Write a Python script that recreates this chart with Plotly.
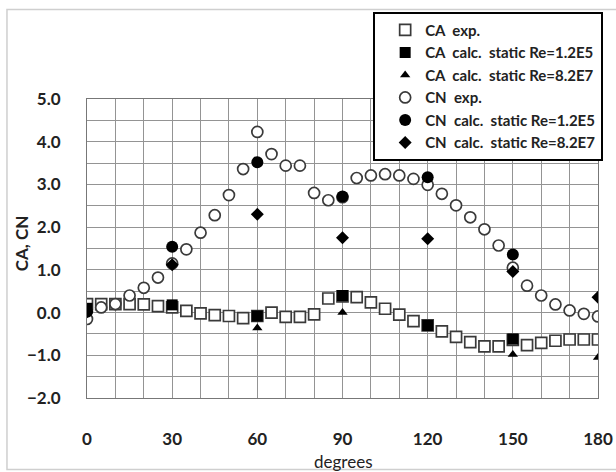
import plotly.graph_objects as go

# ---- data ----
exp_deg = list(range(0, 181, 5))
ca_exp = [0.20, 0.20, 0.20, 0.20, 0.19, 0.15, 0.12, 0.04, -0.02, -0.06, -0.08, -0.13, -0.08,
          0.00, -0.10, -0.10, -0.04, 0.33, 0.38, 0.36, 0.24, 0.09, -0.05, -0.20, -0.30,
          -0.44, -0.57, -0.69, -0.79, -0.79, -0.64, -0.76, -0.71, -0.66, -0.63, -0.63, -0.63]
cn_exp = [-0.15, 0.12, 0.20, 0.40, 0.58, 0.82, 1.15, 1.48, 1.87, 2.28, 2.75, 3.36, 4.23,
          3.71, 3.44, 3.44, 2.80, 2.63, 2.70, 3.15, 3.21, 3.24, 3.21, 3.13, 2.99,
          2.78, 2.51, 2.23, 1.95, 1.57, 1.05, 0.63, 0.40, 0.19, 0.05, -0.03, -0.09]

calc_deg_a = [0, 30, 60, 90, 120, 150]
calc_deg_b = [0, 30, 60, 90, 120, 150, 180]
ca_calc_lo = [0.10, 0.18, -0.08, 0.40, -0.30, -0.62]
ca_calc_hi = [0.12, 0.13, -0.36, 0.00, -0.37, -0.98, -1.05]
cn_calc_lo = [0.02, 1.54, 3.52, 2.72, 3.17, 1.36]
cn_calc_hi = [0.02, 1.12, 2.30, 1.75, 1.73, 0.96, 0.36]

x_ticks = [0, 30, 60, 90, 120, 150, 180]
y_ticks = [-2, -1, 0, 1, 2, 3, 4, 5]
x_title = "degrees"
y_title = "CA, CN"

FONT = "Lato"
edge = "#3a3a3a"

fig = go.Figure()
fig.add_trace(go.Scatter(x=exp_deg, y=ca_exp, mode="markers", name="CA  exp.", legendrank=1,
                         marker=dict(symbol="square", size=11, color="white",
                                     line=dict(color=edge, width=1.7))))
fig.add_trace(go.Scatter(x=exp_deg, y=cn_exp, mode="markers", name="CN  exp.", legendrank=4,
                         marker=dict(symbol="circle", size=11, color="white",
                                     line=dict(color=edge, width=1.7))))
fig.add_trace(go.Scatter(x=calc_deg_a, y=ca_calc_lo, mode="markers",
                         name="CA  calc.  static Re=1.2E5", legendrank=2,
                         marker=dict(symbol="square", size=11, color="black",
                                     line=dict(color="black", width=0))))
fig.add_trace(go.Scatter(x=calc_deg_b, y=ca_calc_hi, mode="markers",
                         name="CA  calc.  static Re=8.2E7", legendrank=3,
                         marker=dict(symbol="triangle-up", size=9, color="black",
                                     line=dict(color="black", width=0))))
fig.add_trace(go.Scatter(x=calc_deg_a, y=cn_calc_lo, mode="markers",
                         name="CN  calc.  static Re=1.2E5", legendrank=5,
                         marker=dict(symbol="circle", size=12, color="black",
                                     line=dict(color="black", width=0))))
fig.add_trace(go.Scatter(x=calc_deg_b, y=cn_calc_hi, mode="markers",
                         name="CN  calc.  static Re=8.2E7", legendrank=6,
                         marker=dict(symbol="diamond", size=10, color="black",
                                     line=dict(color="black", width=0))))

grid = "#949494"
fig.update_layout(
    width=616, height=472,
    margin=dict(l=87, r=18, t=97, b=74),
    paper_bgcolor="white", plot_bgcolor="white",
    font=dict(family=FONT, size=17, color="#222"),
    showlegend=True,
    legend=dict(x=0.56, y=1.292, xanchor="left", yanchor="top",
                bgcolor="white", bordercolor="black", borderwidth=2,
                font=dict(family=FONT, size=15, color="#222", weight="bold"),
                tracegroupgap=0, itemwidth=30, indentation=10),
    xaxis=dict(range=[0, 180], tickvals=x_ticks, showgrid=True, gridcolor=grid, gridwidth=1,
               minor=dict(dtick=10, showgrid=True, gridcolor=grid, gridwidth=1),
               showline=True, linecolor="#777", linewidth=1, mirror=True,
               zeroline=False, ticks="", ticklabelstandoff=26, automargin=False,
               tickfont=dict(family=FONT, size=17, weight="bold")),
    yaxis=dict(range=[-2, 5], tickvals=y_ticks, tickformat=".1f", showgrid=True,
               gridcolor=grid, gridwidth=1,
               minor=dict(dtick=0.5, showgrid=True, gridcolor=grid, gridwidth=1),
               showline=True, linecolor="#777", linewidth=1, mirror=True,
               zeroline=False, ticks="", ticklabelstandoff=22, automargin=False,
               tickfont=dict(family=FONT, size=17, weight="bold")),
    annotations=[
        dict(text=x_title, xref="paper", yref="paper", x=0.501, y=-0.2126,
             xanchor="center", yanchor="middle", showarrow=False,
             font=dict(family=FONT, size=17, color="#222")),
        dict(text=y_title, xref="paper", yref="paper", x=-0.129, y=0.518,
             xanchor="center", yanchor="middle", showarrow=False, textangle=-90,
             font=dict(family=FONT, size=17, color="#222", weight="bold")),
    ],
    shapes=[dict(type="rect", xref="paper", yref="paper",
                 x0=-0.1566, x1=1.04, y0=-0.239, y1=1.299,
                 line=dict(color="#cfcfcf", width=1.5), fillcolor="rgba(0,0,0,0)", layer="below")],
)

fig.write_html("out.html")
